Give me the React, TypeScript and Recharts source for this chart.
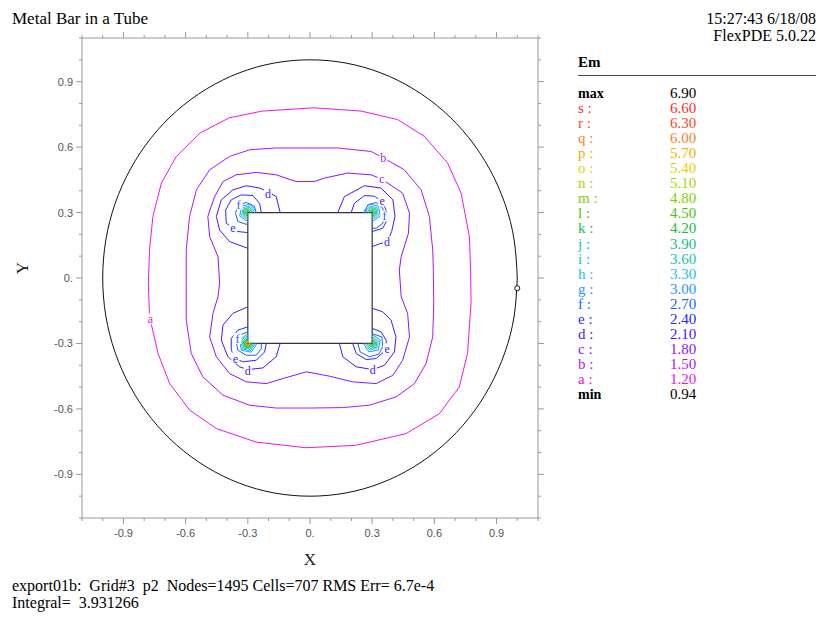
import React from 'react';
import {
  ComposedChart, Line, Scatter, XAxis, YAxis, ReferenceArea, ReferenceDot,
} from 'recharts';

// legend levels (letter -> value), as printed on the right
const legendLetters = ['s', 'r', 'q', 'p', 'o', 'n', 'm', 'l', 'k', 'j', 'i', 'h', 'g', 'f', 'e', 'd', 'c', 'b', 'a'];
const legendValues = ['6.60', '6.30', '6.00', '5.70', '5.40', '5.10', '4.80', '4.50', '4.20', '3.90', '3.60', '3.30', '3.00', '2.70', '2.40', '2.10', '1.80', '1.50', '1.20'];
const legendColors = [
  '#ff2a2a', '#ff4a14', '#ff7f1e', '#f0b000', '#e0d400', '#a8d400', '#7fd000', '#44c800', '#14c044', '#14c08a',
  '#14c4b4', '#1ec0f0', '#2896ff', '#1464ff', '#2828ff', '#5014f0', '#8c14ff', '#b414ff', '#f014f0',
];
const maxValue = '6.90';
const minValue = '0.94';

const axisTicks = [-1.1, -1.0, -0.9, -0.8, -0.7, -0.6, -0.5, -0.4, -0.3, -0.2, -0.1, 0, 0.1, 0.2, 0.3, 0.4, 0.5, 0.6, 0.7, 0.8, 0.9, 1.0, 1.1];
const majorTicks = [-0.9, -0.6, -0.3, 0, 0.3, 0.6, 0.9];

// outer tube wall
const tubeWall = [
  [1, 0], [0.985, 0.174], [0.94, 0.342], [0.866, 0.5], [0.766, 0.643], [0.643, 0.766], [0.5, 0.866], [0.342, 0.94], [0.174, 0.985],
  [0, 1], [-0.174, 0.985], [-0.342, 0.94], [-0.5, 0.866], [-0.643, 0.766], [-0.766, 0.643], [-0.866, 0.5], [-0.94, 0.342], [-0.985, 0.174],
  [-1, 0], [-0.985, -0.174], [-0.94, -0.342], [-0.866, -0.5], [-0.766, -0.643], [-0.643, -0.766], [-0.5, -0.866], [-0.342, -0.94], [-0.174, -0.985],
  [0, -1], [0.174, -0.985], [0.342, -0.94], [0.5, -0.866], [0.643, -0.766], [0.766, -0.643], [0.866, -0.5], [0.94, -0.342], [0.985, -0.174], [1, 0],
];

// contour lines
const contourA = [[
  [0.02, 0.78], [-0.23, 0.765], [-0.39, 0.734], [-0.53, 0.665], [-0.645, 0.557], [-0.717, 0.435], [-0.758, 0.282], [-0.774, 0.129],
  [-0.78, -0.024], [-0.774, -0.178], [-0.733, -0.346], [-0.677, -0.484], [-0.58, -0.606], [-0.452, -0.69], [-0.26, -0.752], [-0.02, -0.778],
  [0.22, -0.767], [0.464, -0.713], [0.624, -0.622], [0.72, -0.5], [0.76, -0.346], [0.777, -0.116], [0.775, 0.037], [0.769, 0.19],
  [0.729, 0.389], [0.664, 0.527], [0.552, 0.649], [0.423, 0.726], [0.247, 0.765], [0.02, 0.78],
]];
const contourB = [[
  [0.02, 0.596], [-0.163, 0.596], [-0.29, 0.588], [-0.388, 0.557], [-0.484, 0.496], [-0.548, 0.404], [-0.581, 0.282], [-0.597, 0.129],
  [-0.597, -0.024], [-0.597, -0.193], [-0.573, -0.346], [-0.517, -0.453], [-0.42, -0.537], [-0.292, -0.583], [-0.163, -0.596], [-0.002, -0.596],
  [0.158, -0.594], [0.287, -0.583], [0.415, -0.545], [0.504, -0.484], [0.56, -0.392], [0.592, -0.27], [0.597, -0.116], [0.595, 0.037],
  [0.592, 0.129], [0.576, 0.282], [0.536, 0.404], [0.455, 0.496], [0.354, 0.55], [0.295, 0.58], [0.134, 0.596], [0.02, 0.596],
]];
const contourC = [[
  [0.02, 0.442], [-0.067, 0.442], [-0.163, 0.473], [-0.259, 0.484], [-0.356, 0.473], [-0.42, 0.442], [-0.46, 0.373], [-0.493, 0.282],
  [-0.484, 0.19], [-0.444, 0.098], [-0.436, -0.024], [-0.444, -0.086], [-0.468, -0.162], [-0.484, -0.27], [-0.452, -0.361], [-0.388, -0.438],
  [-0.307, -0.476], [-0.211, -0.484], [-0.131, -0.461], [-0.018, -0.43], [0.094, -0.45], [0.206, -0.476], [0.319, -0.484], [0.4, -0.446],
  [0.447, -0.377], [0.48, -0.27], [0.471, -0.162], [0.44, -0.086], [0.431, 0.037], [0.44, 0.098], [0.475, 0.205], [0.48, 0.297],
  [0.447, 0.389], [0.346, 0.453], [0.295, 0.473], [0.182, 0.481], [0.07, 0.458], [0.02, 0.442],
]];
const contourD = [
  [[-0.144, 0.3], [-0.163, 0.373], [-0.203, 0.396], [-0.243, 0.412], [-0.307, 0.423], [-0.372, 0.404], [-0.428, 0.358], [-0.452, 0.282], [-0.436, 0.22], [-0.388, 0.167], [-0.3, 0.136]],
  [[0.134, 0.3], [0.166, 0.373], [0.263, 0.423], [0.343, 0.412], [0.4, 0.358], [0.41, 0.282], [0.394, 0.213], [0.372, 0.164], [0.343, 0.159], [0.3, 0.144]],
  [[-0.3, -0.132], [-0.372, -0.162], [-0.42, -0.216], [-0.428, -0.285], [-0.396, -0.361], [-0.34, -0.407], [-0.3, -0.42], [-0.227, -0.412], [-0.163, -0.361], [-0.144, -0.3]],
  [[0.142, -0.3], [0.158, -0.361], [0.223, -0.407], [0.303, -0.42], [0.359, -0.4], [0.407, -0.339], [0.415, -0.27], [0.391, -0.193], [0.351, -0.155], [0.3, -0.139]],
];
const contourE = [
  [[-0.235, 0.3], [-0.243, 0.342], [-0.276, 0.378], [-0.332, 0.381], [-0.38, 0.358], [-0.407, 0.312], [-0.404, 0.251], [-0.372, 0.231], [-0.348, 0.213], [-0.3, 0.208]],
  [[0.199, 0.3], [0.214, 0.342], [0.263, 0.378], [0.31, 0.375], [0.348, 0.351], [0.367, 0.312], [0.372, 0.266], [0.351, 0.228], [0.3, 0.213]],
  [[-0.3, -0.224], [-0.348, -0.239], [-0.38, -0.277], [-0.38, -0.331], [-0.36, -0.369], [-0.324, -0.384], [-0.259, -0.377], [-0.219, -0.339], [-0.211, -0.3]],
  [[0.206, -0.3], [0.223, -0.346], [0.271, -0.374], [0.319, -0.369], [0.372, -0.326], [0.367, -0.285], [0.343, -0.247], [0.3, -0.231]],
];
const contourF = [
  [[-0.26, 0.3], [-0.268, 0.328], [-0.307, 0.346], [-0.348, 0.336], [-0.359, 0.297], [-0.348, 0.259], [-0.3, 0.244]],
  [[0.263, 0.3], [0.279, 0.335], [0.319, 0.346], [0.351, 0.32], [0.359, 0.282], [0.351, 0.251], [0.319, 0.228], [0.3, 0.228]],
  [[-0.3, -0.247], [-0.34, -0.262], [-0.356, -0.293], [-0.348, -0.331], [-0.307, -0.354], [-0.259, -0.354], [-0.235, -0.323], [-0.235, -0.3]],
  [[0.231, -0.3], [0.242, -0.339], [0.287, -0.361], [0.332, -0.349], [0.351, -0.315], [0.347, -0.27], [0.3, -0.255]],
];
const contourG = [
  [[-0.258, 0.3], [-0.284, 0.339], [-0.33, 0.33], [-0.339, 0.284], [-0.3, 0.258]],
  [[0.258, 0.3], [0.284, 0.339], [0.33, 0.33], [0.339, 0.284], [0.3, 0.258]],
  [[-0.256, -0.3], [-0.283, -0.34], [-0.331, -0.331], [-0.34, -0.283], [-0.3, -0.256]],
  [[0.258, -0.3], [0.284, -0.339], [0.33, -0.33], [0.339, -0.284], [0.3, -0.258]],
];
const contourH = [
  [[-0.267, 0.3], [-0.287, 0.33], [-0.323, 0.323], [-0.33, 0.287], [-0.3, 0.267]],
  [[0.267, 0.3], [0.287, 0.33], [0.323, 0.323], [0.33, 0.287], [0.3, 0.267]],
  [[-0.264, -0.3], [-0.286, -0.333], [-0.326, -0.326], [-0.333, -0.286], [-0.3, -0.264]],
  [[0.267, -0.3], [0.287, -0.33], [0.323, -0.323], [0.33, -0.287], [0.3, -0.267]],
];
const contourI = [
  [[-0.275, 0.3], [-0.29, 0.323], [-0.318, 0.318], [-0.323, 0.29], [-0.3, 0.275]],
  [[0.275, 0.3], [0.29, 0.323], [0.318, 0.318], [0.323, 0.29], [0.3, 0.275]],
  [[-0.271, -0.3], [-0.289, -0.327], [-0.321, -0.321], [-0.327, -0.289], [-0.3, -0.271]],
  [[0.275, -0.3], [0.29, -0.323], [0.318, -0.318], [0.323, -0.29], [0.3, -0.275]],
];
const contourJ = [
  [[-0.282, 0.3], [-0.293, 0.317], [-0.313, 0.313], [-0.317, 0.293], [-0.3, 0.282]],
  [[0.282, 0.3], [0.293, 0.317], [0.313, 0.313], [0.317, 0.293], [0.3, 0.282]],
  [[-0.277, -0.3], [-0.291, -0.321], [-0.316, -0.316], [-0.321, -0.291], [-0.3, -0.277]],
  [[0.282, -0.3], [0.293, -0.317], [0.313, -0.313], [0.317, -0.293], [0.3, -0.282]],
];
const contourK = [
  [[-0.288, 0.3], [-0.295, 0.311], [-0.308, 0.308], [-0.311, 0.295], [-0.3, 0.288]],
  [[0.288, 0.3], [0.295, 0.311], [0.308, 0.308], [0.311, 0.295], [0.3, 0.288]],
  [[-0.282, -0.3], [-0.293, -0.317], [-0.313, -0.313], [-0.317, -0.293], [-0.3, -0.282]],
  [[0.288, -0.3], [0.295, -0.311], [0.308, -0.308], [0.311, -0.295], [0.3, -0.288]],
];
const contourL = [
  [[-0.293, 0.3], [-0.297, 0.306], [-0.305, 0.305], [-0.306, 0.297], [-0.3, 0.293]],
  [[0.293, 0.3], [0.297, 0.306], [0.305, 0.305], [0.306, 0.297], [0.3, 0.293]],
  [[-0.286, -0.3], [-0.295, -0.313], [-0.31, -0.31], [-0.313, -0.295], [-0.3, -0.286]],
  [[0.293, -0.3], [0.297, -0.306], [0.305, -0.305], [0.306, -0.297], [0.3, -0.293]],
];
// hot spot at the lower left corner
const contourM = [[[-0.289, -0.3], [-0.296, -0.31], [-0.308, -0.308], [-0.31, -0.296], [-0.3, -0.289]]];
const contourN = [[[-0.291, -0.3], [-0.297, -0.308], [-0.306, -0.306], [-0.308, -0.297], [-0.3, -0.291]]];
const contourO = [[[-0.293, -0.3], [-0.297, -0.306], [-0.305, -0.305], [-0.306, -0.297], [-0.3, -0.293]]];
const contourP = [[[-0.294, -0.3], [-0.298, -0.306], [-0.304, -0.304], [-0.306, -0.298], [-0.3, -0.294]]];
const contourQ = [[[-0.295, -0.3], [-0.298, -0.305], [-0.304, -0.304], [-0.305, -0.298], [-0.3, -0.295]]];
const contourR = [[[-0.296, -0.3], [-0.298, -0.304], [-0.303, -0.303], [-0.304, -0.298], [-0.3, -0.296]]];

const labelLetters = ['a', 'b', 'c', 'd', 'd', 'd', 'd', 'e', 'e', 'e', 'e', 'f', 'f', 'f'];
const labelX = [-0.77, 0.354, 0.346, -0.203, 0.372, -0.3, 0.303, -0.372, 0.348, -0.36, 0.372, -0.345, 0.359, -0.35];
const labelY = [-0.19, 0.55, 0.453, 0.386, 0.164, -0.427, -0.423, 0.231, 0.351, -0.369, -0.326, 0.336, 0.282, -0.28];

const markerX = 1.0;
const markerY = -0.047;

const levels: [string, number[][][]][] = [
  ['a', contourA], ['b', contourB], ['c', contourC], ['d', contourD], ['e', contourE], ['f', contourF],
  ['g', contourG], ['h', contourH], ['i', contourI], ['j', contourJ], ['k', contourK], ['l', contourL],
  ['m', contourM], ['n', contourN], ['o', contourO], ['p', contourP], ['q', contourQ], ['r', contourR],
];

const colorOf = (letter: string) => legendColors[legendLetters.indexOf(letter)];
const toPts = (loop: number[][]) => loop.map(([x, y]) => ({ x, y }));

const labelData = labelLetters.map((t, i) => ({ x: labelX[i], y: labelY[i], t, c: colorOf(t) }));

const SERIF = '"Liberation Serif", "Times New Roman", serif';
const SANS = '"Liberation Sans", Arial, sans-serif';
const AXIS = '#999';

const fmt = (v: number) => (v === 0 ? '0.' : v.toFixed(1));
const isMajor = (v: number) => majorTicks.includes(v);

const BottomTick = ({ x, y, payload }: any) => {
  const major = isMajor(payload.value);
  return (
    <g>
      <line x1={x} x2={x} y1={y} y2={y + (major ? 6 : 3)} stroke={AXIS} />
      {major && (
        <text x={x} y={y + 19} textAnchor="middle" fontSize={11} fill="#555" fontFamily={SANS}>
          {fmt(payload.value)}
        </text>
      )}
    </g>
  );
};

const TopTick = ({ x, y, payload }: any) => (
  <line x1={x} x2={x} y1={y} y2={y - (isMajor(payload.value) ? 6 : 3)} stroke={AXIS} />
);

const LeftTick = ({ x, y, payload }: any) => {
  const major = isMajor(payload.value);
  return (
    <g>
      <line x1={x} x2={x - (major ? 6 : 3)} y1={y} y2={y} stroke={AXIS} />
      {major && (
        <text x={x - 9} y={y + 4} textAnchor="end" fontSize={11} fill="#555" fontFamily={SANS}>
          {fmt(payload.value)}
        </text>
      )}
    </g>
  );
};

const RightTick = ({ x, y, payload }: any) => (
  <line x1={x} x2={x + (isMajor(payload.value) ? 6 : 3)} y1={y} y2={y} stroke={AXIS} />
);

const ContourLabel = (p: any) => (
  <g>
    <rect x={p.cx - 4} y={p.cy - 6} width={8} height={11} fill="#fff" />
    <text x={p.cx} y={p.cy + 4} textAnchor="middle" fontSize={12} fill={p.payload.c} fontFamily={SERIF}>
      {p.payload.t}
    </text>
  </g>
);

const App = () => {
  return (
    <div style={{ position: 'absolute', left: 0, top: 0, width: 820, height: 617, background: '#fff' }}>
      <ComposedChart width={820} height={617} margin={{ top: 18, right: 262, bottom: 69, left: 42 }}>
        <XAxis
          dataKey="x" type="number" domain={[-1.1, 1.1]} ticks={axisTicks} allowDataOverflow
          interval={0} tickLine={false} tickSize={0} tickMargin={0} height={30}
          axisLine={{ stroke: AXIS }} tick={(p: any) => <BottomTick {...p} />}
        />
        <XAxis
          xAxisId="top" orientation="top" dataKey="x" type="number" domain={[-1.1, 1.1]} ticks={axisTicks}
          allowDataOverflow interval={0} tickLine={false} tickSize={0} tickMargin={0} height={20}
          axisLine={{ stroke: AXIS }} tick={(p: any) => <TopTick {...p} />}
        />
        <YAxis
          dataKey="y" type="number" domain={[-1.1, 1.1]} ticks={axisTicks} allowDataOverflow
          interval={0} tickLine={false} tickSize={0} tickMargin={0} width={40}
          axisLine={{ stroke: AXIS }} tick={(p: any) => <LeftTick {...p} />}
        />
        <YAxis
          yAxisId="right" orientation="right" dataKey="y" type="number" domain={[-1.1, 1.1]} ticks={axisTicks}
          allowDataOverflow interval={0} tickLine={false} tickSize={0} tickMargin={0} width={20}
          axisLine={{ stroke: AXIS }} tick={(p: any) => <RightTick {...p} />}
        />

        <Line
          data={toPts(tubeWall)} dataKey="y" type="natural" stroke="#111" strokeWidth={1}
          dot={false} activeDot={false} isAnimationActive={false} legendType="none"
        />
        {levels.map(([letter, loops]) =>
          loops.map((loop, i) => (
            <Line
              key={`${letter}-${i}`} data={toPts(loop)} dataKey="y" type="linear" stroke={colorOf(letter)}
              strokeWidth={1} dot={false} activeDot={false} isAnimationActive={false} legendType="none"
            />
          ))
        )}

        <ReferenceArea x1={-0.3} x2={0.3} y1={-0.3} y2={0.3} fill="#fff" fillOpacity={1} stroke="#333" strokeWidth={1.2} />
        <ReferenceDot x={markerX} y={markerY} r={2.5} fill="#fff" stroke="#111" strokeWidth={1} />
        <Scatter data={labelData} dataKey="y" shape={ContourLabel} isAnimationActive={false} legendType="none" />
      </ComposedChart>

      <svg width={820} height={617} style={{ position: 'absolute', left: 0, top: 0, pointerEvents: 'none' }}>
        <text x={12} y={24} fontSize={17} fontFamily={SERIF} fill="#000">Metal Bar in a Tube</text>
        <text x={816} y={24} fontSize={16} fontFamily={SERIF} fill="#000" textAnchor="end">15:27:43 6/18/08</text>
        <text x={816} y={41} fontSize={16} fontFamily={SERIF} fill="#000" textAnchor="end">FlexPDE 5.0.22</text>

        <text x={578} y={67} fontSize={15} fontWeight="bold" fontFamily={SERIF} fill="#000">Em</text>
        <line x1={578} x2={816} y1={75.5} y2={75.5} stroke="#444" strokeWidth={1} />
        <text x={578} y={98} fontSize={14} fontWeight="bold" fontFamily={SERIF} fill="#000">max</text>
        <text x={670} y={98} fontSize={15} fontFamily={SERIF} fill="#000">{maxValue}</text>
        {legendLetters.map((l, i) => (
          <g key={l}>
            <text x={578} y={98 + 15.05 * (i + 1)} fontSize={15} fontFamily={SERIF} fill={legendColors[i]}>{`${l} :`}</text>
            <text x={670} y={98 + 15.05 * (i + 1)} fontSize={15} fontFamily={SERIF} fill={legendColors[i]}>{legendValues[i]}</text>
          </g>
        ))}
        <text x={578} y={399} fontSize={14} fontWeight="bold" fontFamily={SERIF} fill="#000">min</text>
        <text x={670} y={399} fontSize={15} fontFamily={SERIF} fill="#000">{minValue}</text>

        <text x={310} y={565} fontSize={17} fontFamily={SERIF} fill="#222" textAnchor="middle">X</text>
        <text x={28} y={268} fontSize={17} fontFamily={SERIF} fill="#222" textAnchor="middle" transform="rotate(-90 28 268)">Y</text>

        <text x={12} y={591} fontSize={16} fontFamily={SERIF} fill="#000" style={{ whiteSpace: 'pre' }}>
          {'export01b:  Grid#3  p2  Nodes=1495 Cells=707 RMS Err= 6.7e-4'}
        </text>
        <text x={12} y={608} fontSize={16} fontFamily={SERIF} fill="#000" style={{ whiteSpace: 'pre' }}>
          {'Integral=  3.931266'}
        </text>
      </svg>
    </div>
  );
};

export default App;
